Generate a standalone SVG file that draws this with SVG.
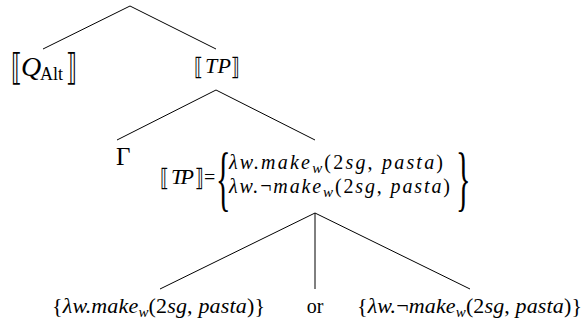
<svg xmlns="http://www.w3.org/2000/svg" width="586" height="327" viewBox="0 0 586 327">
<style>
text{font-family:"Liberation Serif","Times New Roman",serif;fill:#000}
.i{font-style:italic}
.b{font-family:"DejaVu Sans","Liberation Serif",sans-serif}
.s{font-size:15px;font-style:italic}
line{stroke:#000;stroke-width:1}
</style>
<rect width="586" height="327" fill="#fff"/>
<g id="connectors">
<line x1="130" y1="6" x2="43" y2="49"/>
<line x1="130" y1="6" x2="216" y2="49"/>
<line x1="216" y1="90" x2="117" y2="140"/>
<line x1="216" y1="90" x2="315" y2="140"/>
<line x1="315" y1="213" x2="160" y2="289"/>
<line x1="315" y1="213" x2="315" y2="289"/>
<line x1="315" y1="213" x2="470" y2="289"/>
</g>
<g id="node-qalt">
<text x="0" y="0" font-size="37" class="b" transform="translate(11,80) scale(0.6,1)">⟦</text>
<text x="21" y="76" font-size="28" class="i">Q</text>
<text x="40" y="80" font-size="18">Alt</text>
<text x="0" y="0" font-size="37" class="b" transform="translate(66,80) scale(0.6,1)">⟧</text>
</g>
<g id="node-tp">
<text x="0" y="0" font-size="24" class="b" transform="translate(194,75) scale(0.75,1)">⟦</text>
<text x="205" y="73" font-size="22" class="i" textLength="26" lengthAdjust="spacing">TP</text>
<text x="0" y="0" font-size="24" class="b" transform="translate(231,75) scale(0.75,1)">⟧</text>
</g>
<g id="node-gamma">
<text x="116" y="165" font-size="25">Γ</text>
</g>
<g id="node-tp-set">
<text x="0" y="0" font-size="24" class="b" transform="translate(160,186) scale(0.75,1)">⟦</text>
<text x="171" y="184" font-size="22" class="i" textLength="23" lengthAdjust="spacing">TP</text>
<text x="0" y="0" font-size="24" class="b" transform="translate(195,186) scale(0.75,1)">⟧</text>
<text x="204" y="184" font-size="20">=</text>
<text x="0" y="0" font-size="72" transform="translate(216,202) scale(0.42,1)">{</text>
<text x="229" y="169" font-size="20" textLength="214" lengthAdjust="spacing"><tspan class="i">λw.make</tspan><tspan class="s" dy="4">w</tspan><tspan dy="-4">(2</tspan><tspan class="i">sg</tspan>, <tspan class="i">pasta</tspan>)</text>
<text x="229" y="193" font-size="20" textLength="221" lengthAdjust="spacing"><tspan class="i">λw.</tspan>¬<tspan class="i">make</tspan><tspan class="s" dy="4">w</tspan><tspan dy="-4">(2</tspan><tspan class="i">sg</tspan>, <tspan class="i">pasta</tspan>)</text>
<text x="0" y="0" font-size="72" transform="translate(456,202) scale(0.42,1)">}</text>
</g>
<g id="node-alt1">
<text x="52" y="313" font-size="22" textLength="213" lengthAdjust="spacing">{<tspan class="i">λw.make</tspan><tspan class="s" dy="4">w</tspan><tspan dy="-4">(2</tspan><tspan class="i">sg</tspan>, <tspan class="i">pasta</tspan>)}</text>
</g>
<g id="node-or">
<text x="315" y="313" font-size="20" text-anchor="middle">or</text>
</g>
<g id="node-alt2">
<text x="357" y="313" font-size="22" textLength="225" lengthAdjust="spacing">{<tspan class="i">λw.</tspan>¬<tspan class="i">make</tspan><tspan class="s" dy="4">w</tspan><tspan dy="-4">(2</tspan><tspan class="i">sg</tspan>, <tspan class="i">pasta</tspan>)}</text>
</g>
</svg>
